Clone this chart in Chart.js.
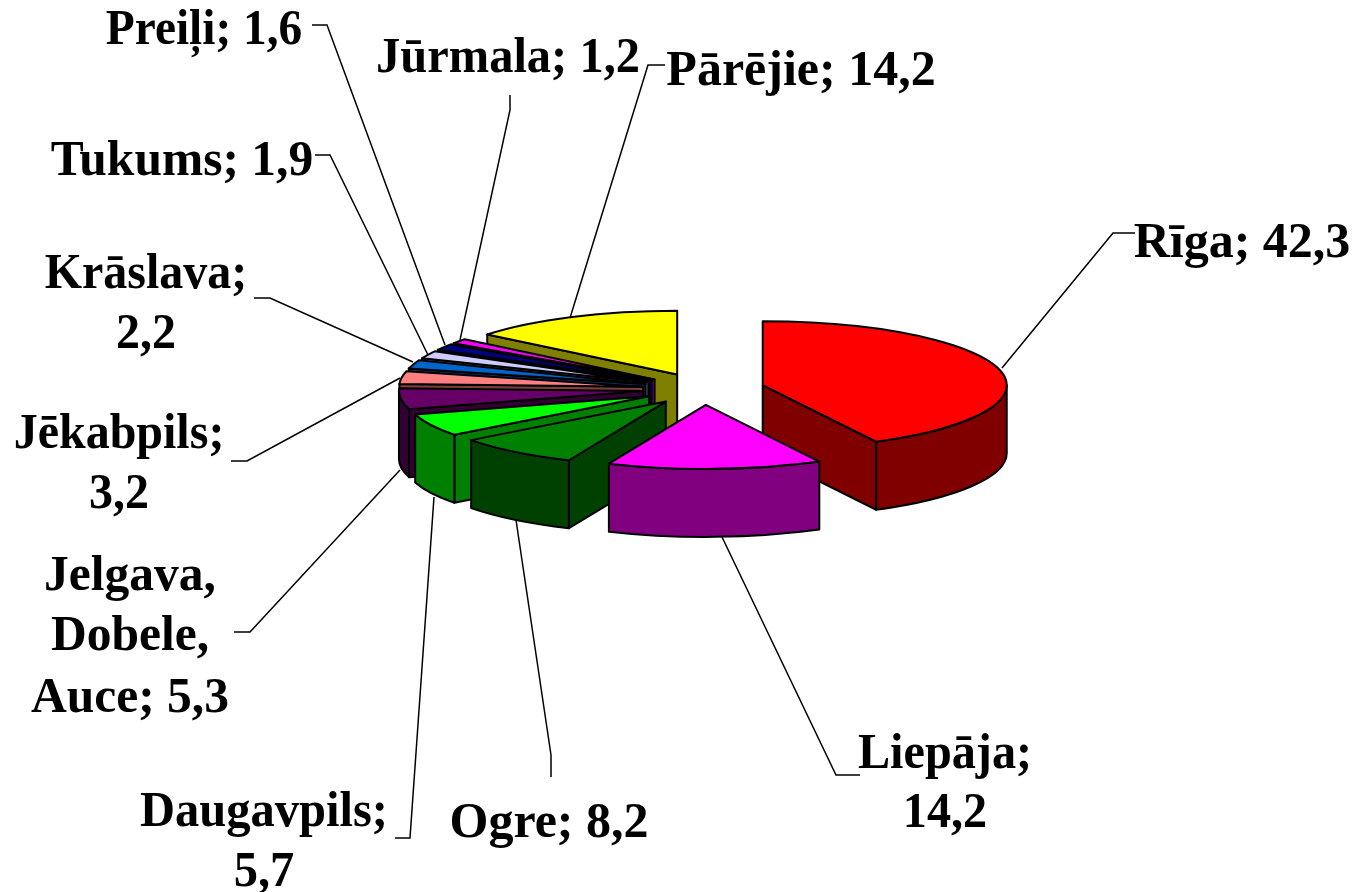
<!DOCTYPE html>
<html>
<head>
<meta charset="utf-8">
<script src="https://cdn.jsdelivr.net/npm/chart.js@4"></script>
<style>
    html, body { margin: 0; background: #fff; }
    canvas { display: block; }
</style>
</head>
<body>
<canvas id="myChart" width="1354" height="892"></canvas>
<script>
const labels = ['Rīga', 'Liepāja', 'Ogre', 'Daugavpils', 'Jelgava, Dobele, Auce', 'Jēkabpils', 'Krāslava', 'Tukums', 'Preiļi', 'Jūrmala', 'Pārējie'];
const values = [42.3, 14.2, 8.2, 5.7, 5.3, 3.2, 2.2, 1.9, 1.6, 1.2, 14.2];
const colors = ['#ff0000', '#ff00ff', '#008000', '#00ff00', '#660066', '#ff8080', '#0066cc', '#ccccff', '#000080', '#ff00ff', '#ffff00'];

// label placement: words per line, centre x, baseline of each line, text squeeze, leader polyline
const labelLayout = [
    { words: [3], x: 1242, y: [257], fit: 1, lead: [[1135, 233], [1113, 233], [1002, 368]] },
    { words: [1, 1], x: 945, y: [768, 827], fit: 0.965, lead: [[860, 775], [836, 775], [722, 537]] },
    { words: [3], x: 549, y: [837], fit: 1, lead: [[551, 777], [551, 755], [516, 520]] },
    { words: [1, 1], x: 264, y: [826, 886], fit: 0.97, lead: [[395, 838], [410, 838], [434, 497]] },
    { words: [1, 1, 2], x: 130, y: [590, 650, 712], fit: 0.99, lead: [[234, 632], [250, 632], [400, 470]] },
    { words: [1, 1], x: 119, y: [448, 508], fit: 0.96, lead: [[231, 461], [247, 461], [400, 378]] },
    { words: [1, 1], x: 146, y: [288, 348], fit: 0.96, lead: [[254, 298], [270, 298], [413, 362]] },
    { words: [2], x: 182, y: [175], fit: 0.99, lead: [[315, 155], [330, 155], [428, 355]] },
    { words: [2], x: 204, y: [44], fit: 0.947, lead: [[312, 25], [327, 25], [445, 345]] },
    { words: [2], x: 508, y: [72], fit: 0.97, lead: [[510, 95], [510, 110], [460, 340]] },
    { words: [2], x: 801, y: [85], fit: 1, lead: [[665, 65], [648, 65], [570, 318]] }
];

const tilt = 0.262;      // vertical squash of the pie
const depth = 68;        // height of the walls
const explode = 61;

function darker(hex) {
    const n = parseInt(hex.slice(1), 16);
    const half = v => Math.round(v / 2);
    return `rgb(${half(n >> 16)},${half((n >> 8) & 255)},${half(n & 255)})`;
}

function sliceGeom(arc) {
    const p = arc.getProps(['x', 'y', 'startAngle', 'endAngle', 'outerRadius']);
    const mid = (p.startAngle + p.endAngle) / 2;
    return {
        x: p.x + Math.cos(mid) * explode,
        y: p.y + Math.sin(mid) * explode * tilt,
        r: p.outerRadius, a0: p.startAngle, a1: p.endAngle, mid,
        baseX: p.x, baseY: p.y
    };
}

function paint(ctx, fill) {
    ctx.fillStyle = fill;
    ctx.fill();
    ctx.stroke();
}

function radialWall(ctx, g, a, fill) {
    const rx = g.x + Math.cos(a) * g.r;
    const ry = g.y + Math.sin(a) * g.r * tilt;
    ctx.beginPath();
    ctx.moveTo(g.x, g.y);
    ctx.lineTo(rx, ry);
    ctx.lineTo(rx, ry + depth);
    ctx.lineTo(g.x, g.y + depth);
    ctx.closePath();
    paint(ctx, fill);
}

function outerWall(ctx, g, fill) {
    const a0 = Math.max(g.a0, 0);
    const a1 = Math.min(g.a1, Math.PI);
    if (a1 <= a0) return;
    ctx.beginPath();
    ctx.ellipse(g.x, g.y, g.r, g.r * tilt, 0, a0, a1);
    ctx.ellipse(g.x, g.y + depth, g.r, g.r * tilt, 0, a1, a0, true);
    ctx.closePath();
    paint(ctx, fill);
}

const pie3d = {
    id: 'pie3d',
    beforeDatasetsDraw(chart) {
        const ctx = chart.ctx;
        const arcs = chart.getDatasetMeta(0).data;
        const order = arcs.map((arc, i) => i).sort((a, b) => Math.sin(sliceGeom(arcs[a]).mid) - Math.sin(sliceGeom(arcs[b]).mid));

        ctx.save();
        ctx.lineWidth = 2;
        ctx.strokeStyle = '#000';
        ctx.lineJoin = 'round';
        order.forEach(i => {
            const arc = arcs[i];
            const g = sliceGeom(arc);
            const side = darker(colors[i]);
            if (Math.cos(g.a0) < 0) radialWall(ctx, g, g.a0, side);
            if (Math.cos(g.a1) > 0) radialWall(ctx, g, g.a1, side);
            outerWall(ctx, g, side);

            // top face: the library's own arc, moved out and squashed
            ctx.save();
            ctx.translate(g.x - g.baseX, g.y);
            ctx.scale(1, tilt);
            ctx.translate(0, -g.baseY);
            arc.draw(ctx);
            ctx.restore();

            ctx.beginPath();
            ctx.moveTo(g.x, g.y);
            ctx.ellipse(g.x, g.y, g.r, g.r * tilt, 0, g.a0, g.a1);
            ctx.closePath();
            ctx.stroke();
        });
        ctx.restore();
    },
    beforeDatasetDraw() {
        return false;
    },
    afterDraw(chart) {
        const ctx = chart.ctx;
        ctx.save();
        ctx.strokeStyle = '#000';
        ctx.lineWidth = 1.5;
        labelLayout.forEach(l => {
            ctx.beginPath();
            l.lead.forEach((pt, k) => k ? ctx.lineTo(pt[0], pt[1]) : ctx.moveTo(pt[0], pt[1]));
            ctx.stroke();
        });

        ctx.fillStyle = '#000';
        ctx.font = 'bold 50px "Liberation Serif"';
        ctx.textAlign = 'center';
        ctx.textBaseline = 'alphabetic';
        labels.forEach((name, i) => {
            const l = labelLayout[i];
            const text = name + '; ' + String(values[i]).replace('.', ',');
            const words = text.split(' ');
            let from = 0;
            l.words.forEach((count, k) => {
                const line = words.slice(from, from + count).join(' ');
                from += count;
                ctx.fillText(line, l.x, l.y[k], ctx.measureText(line).width * l.fit);
            });
        });
        ctx.restore();
    }
};

const myc = document.getElementById('myChart').getContext('2d');
const myChart = new Chart(myc, {
    type: 'pie',
    plugins: [pie3d],
    data: {
        labels: labels,
        datasets: [{
            data: values,
            backgroundColor: colors,
            borderWidth: 0,
            radius: 244
        }]
    },
    options: {
        responsive: false,
        animation: false,
        layout: { padding: { left: 53, right: 0, top: 0, bottom: 114 } },
        plugins: { legend: { display: false }, tooltip: { enabled: false } }
    }
});
</script>
</body>
</html>
